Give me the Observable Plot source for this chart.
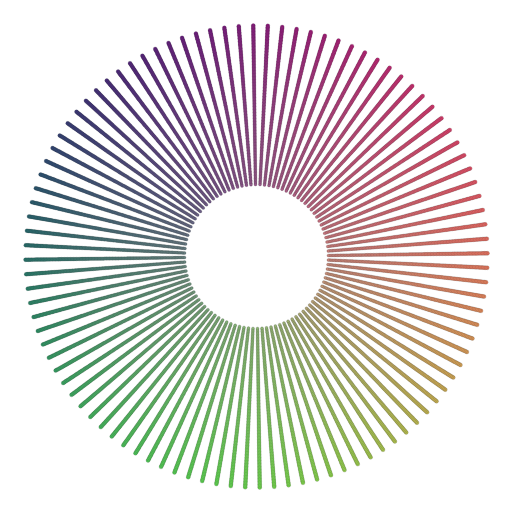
<!DOCTYPE html>
<html>
<head>
<meta charset="utf-8">
<script src="https://cdn.jsdelivr.net/npm/d3@7"></script>
<script src="https://cdn.jsdelivr.net/npm/@observablehq/plot@0.6"></script>
<style>
  html, body { margin: 0; padding: 0; background: #fff; }
</style>
</head>
<body>
<div id="chart"></div>
<script>
// Rays: 100 spokes, clockwise from top (degrees)
const rayCount = 100;
const rayAngles = d3.range(rayCount).map(i => i * 360 / rayCount - 0.8);
// Radial extent of each ray (data units = px at this size)
const innerRadius = 72;
const outerRadius = 231;
const radialStep = 1.5;
const rayRadii = d3.range(innerRadius, outerRadius + 0.01, radialStep);
// Outer colours read around the wheel (top, top-right, right, ... top-left)
const outerStops = ["#8a1884", "#d62c70", "#f27662", "#cac050", "#62e44c", "#48bc62", "#1e766c", "#3e2a7c"];
const centreGrey = "#9a8a92";

const wheel = d3.interpolateRgbBasisClosed(outerStops);
const data = [];
for (const a of rayAngles) {
  const outer = wheel(((a + 360) % 360) / 360);
  for (const r of rayRadii) {
    const t = (r - innerRadius) / (outerRadius - innerRadius);
    const rad = a * Math.PI / 180;
    data.push({
      x: r * Math.sin(rad),
      y: r * Math.cos(rad),
      size: 1.5 + 0.5 * t,
      fill: d3.interpolateLab(centreGrey, outer)(0.52 + 0.48 * t)
    });
  }
}

const chart = Plot.plot({
  width: 512,
  height: 512,
  margin: 0,
  x: {domain: [-256, 256], axis: null},
  y: {domain: [-256, 256], axis: null},
  r: {type: "identity"},
  marks: [
    Plot.dot(data, {x: "x", y: "y", r: "size", fill: "fill", stroke: "#111", strokeOpacity: 0.5, strokeWidth: 0.3})
  ]
});
document.getElementById("chart").append(chart);
</script>
</body>
</html>
